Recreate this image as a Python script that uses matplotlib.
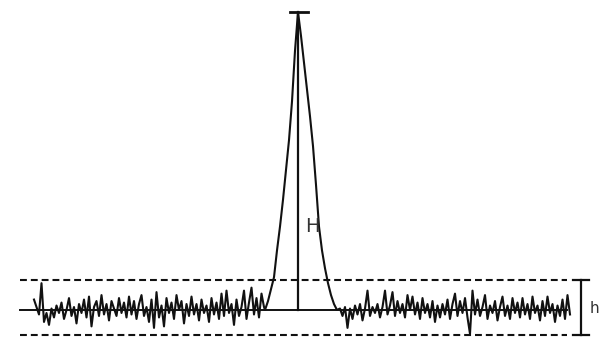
import matplotlib.pyplot as plt
import numpy as np

# chromatogram trace: baseline noise before and after one peak (signal in % of peak height H)
noise_left = [3.5, 1.0, -1.5, 9.0, -4.0, -1.0, -5.0, 0.5, -2.5, 1.5,
              -1.0, 2.5, -3.0, 0.0, 4.0, -2.0, 1.0, -4.5, 2.0, -1.0,
              3.5, -2.5, 4.5, -5.5, 1.0, 3.0, -2.0, 5.0, -1.5, 2.0,
              -3.5, 3.0, 0.5, -2.0, 4.0, -1.0, 2.5, -2.5, 4.5, -1.5,
              3.0, -3.0, 2.0, 5.0, -2.0, 1.0, -4.0, 3.5, -6.0, 6.0,
              -2.5, 1.5, -5.5, 4.0, -1.0, 2.5, -3.0, 5.0, 0.0, 3.0,
              -4.5, 2.0, -2.0, 4.5, -1.5, 2.0, -3.5, 3.5, -1.0, 1.5,
              -4.0, 4.0, -1.5, 2.5, -3.0, 5.5, -2.0, 6.5, -1.0, 2.0,
              -5.0, 3.5, -2.0, 1.0, 6.5, -3.0, 2.5, 7.5, -1.5, 4.0,
              -2.5, 5.5, 1.0]
peak = [0, 3, 7, 11, 20, 28, 37, 47, 57, 70, 87, 100,
        92, 83, 74, 65, 55, 42, 28, 20, 14, 9, 5, 2, 0]
noise_right = [0.5, -2.0, 1.0, -6.0, 0.5, -3.0, 1.5, -1.5, 2.0, -3.5,
               0.5, 6.5, -2.0, 1.0, -1.0, 2.0, -2.5, 1.0, 6.5, -1.5,
               1.5, 6.0, -2.0, 3.0, -1.0, 2.0, -2.5, 5.0, 0.0, 4.5,
               -1.5, 2.5, -3.0, 4.0, -1.0, 2.0, -2.5, 3.0, -4.0, 1.5,
               -2.5, 2.0, -1.5, 3.5, -3.0, 2.0, 5.5, -2.0, 3.0, -1.0,
               4.0, -2.5, -8.0, 6.5, -1.5, 3.5, -2.0, 1.0, 5.0, -3.0,
               1.5, -1.0, 3.0, -3.5, 1.0, 4.5, -2.0, 1.5, -3.0, 4.0,
               -1.0, 2.5, -2.5, 4.0, -1.5, 2.0, -3.0, 4.5, -1.0, 1.5,
               -3.5, 3.0, -2.0, 4.5, -1.0, 2.0, -4.0, 1.5, -2.0, 3.5,
               -3.0, 5.0, -1.5]

t_left = 3.4 + 0.25 * np.arange(len(noise_left))      # seconds
t_peak = 26.5 + 0.3 * np.arange(len(peak))
t_right = 34.0 + 0.25 * np.arange(len(noise_right))

t = np.concatenate([t_left, t_peak, t_right])
signal = np.concatenate([noise_left, peak, noise_right])

t_apex = 29.8
H = 100
noise_hi, noise_lo = 10, -8.4   # band that holds the noise, h = hi - lo

fig = plt.figure(figsize=(6, 3.37), dpi=100)
ax = fig.add_axes([0, 0, 1, 1])
ax.set_xlim(0, 60)
ax.set_ylim(-9.06, 104.03)
ax.axis('off')

col = '#111111'

# baseline and noise band
ax.plot([2.0, 56.7], [0, 0], color=col, lw=1.4)
ax.plot([2.0, 56.7], [noise_hi, noise_hi], color=col, lw=1.5, ls=(0, (3.3, 1.9)))
ax.plot([2.0, 56.7], [noise_lo, noise_lo], color=col, lw=1.5, ls=(0, (3.3, 1.9)))

ax.plot(t, signal, color=col, lw=1.5)

# peak height H
ax.plot([t_apex, t_apex], [0, H], color=col, lw=1.6)
ax.plot([t_apex - 0.85, t_apex + 0.95], [H, H], color=col, lw=2.0)
ax.text(t_apex + 0.7, 28, 'H', fontsize=14, color='#333333', va='center', ha='left')

# noise h
ax.plot([58.1, 58.1], [noise_lo, noise_hi], color=col, lw=1.6)
ax.plot([57.3, 58.9], [noise_hi, noise_hi], color=col, lw=1.6)
ax.plot([57.3, 58.9], [noise_lo, noise_lo], color=col, lw=1.6)
ax.text(59.0, 0.5, 'h', fontsize=11, color='#333333', va='center', ha='left')

fig.savefig('out.png', dpi=100, facecolor='white')
